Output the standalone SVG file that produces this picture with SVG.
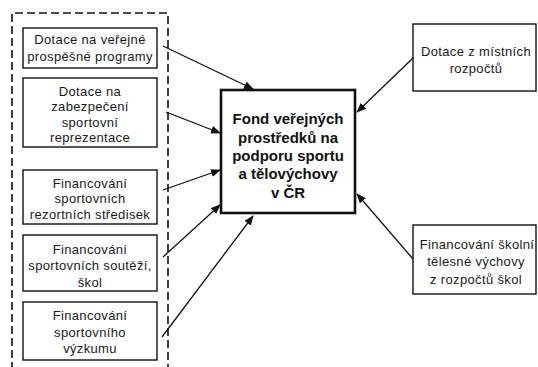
<svg xmlns="http://www.w3.org/2000/svg" width="538" height="367" viewBox="0 0 538 367">
<style>
.box{fill:#fff;stroke:#111;stroke-width:1.4}
.main{fill:#fff;stroke:#111;stroke-width:2.6}
.t{font-family:"Liberation Sans",Arial,sans-serif;font-size:13px;letter-spacing:0.35px;fill:#1a1a1a;text-anchor:middle}
.b{font-family:"Liberation Sans",Arial,sans-serif;font-size:15px;font-weight:bold;fill:#111;text-anchor:middle}
.c{stroke:#111;stroke-width:1.3;fill:none;marker-end:url(#ah)}
</style>
<defs>
<marker id="ah" markerWidth="10" markerHeight="8" refX="9" refY="4" orient="auto" markerUnits="userSpaceOnUse">
<path d="M0,0 L10,4 L0,8 Z" fill="#111"/>
</marker>
</defs>
<rect width="538" height="367" fill="#fff"/>
<g id="group-dashed">
<path d="M12,370 L12,13 L168,13 L168,370" fill="none" stroke="#111" stroke-width="1.6" stroke-dasharray="8,4"/>
</g>
<g id="n1"><rect class="box" x="23" y="28" width="134" height="40"/>
<text class="t" x="90" y="44">Dotace na veřejné</text><text class="t" x="90" y="61">prospěšné programy</text></g>
<g id="n2"><rect class="box" x="23" y="78" width="134" height="69"/>
<text class="t" x="90" y="96">Dotace na</text><text class="t" x="90" y="111">zabezpečení</text><text class="t" x="90" y="127">sportovní</text><text class="t" x="90" y="142">reprezentace</text></g>
<g id="n3"><rect class="box" x="23" y="170" width="134" height="54"/>
<text class="t" x="90" y="188">Financování</text><text class="t" x="90" y="203">sportovních</text><text class="t" x="90" y="219">rezortních středisek</text></g>
<g id="n4"><rect class="box" x="23" y="235" width="134" height="56"/>
<text class="t" x="90" y="254">Financování</text><text class="t" x="90" y="270">sportovních soutěží,</text><text class="t" x="90" y="287">škol</text></g>
<g id="n5"><rect class="box" x="23" y="302" width="134" height="58"/>
<text class="t" x="90" y="320">Financování</text><text class="t" x="90" y="337">sportovního</text><text class="t" x="90" y="353">výzkumu</text></g>
<g id="center"><rect class="main" x="221" y="90" width="134" height="123"/>
<text class="b" x="288" y="124">Fond veřejných</text><text class="b" x="288" y="143">prostředků na</text><text class="b" x="288" y="161">podporu sportu</text><text class="b" x="288" y="179">a tělovýchovy</text><text class="b" x="288" y="198">v ČR</text></g>
<g id="r1"><rect class="box" x="413" y="24" width="123" height="67"/>
<text class="t" x="476" y="56">Dotace z místních</text><text class="t" x="476" y="73">rozpočtů</text></g>
<g id="r2"><rect class="box" x="413" y="225" width="123" height="69"/>
<text class="t" x="477" y="249">Financování školní</text><text class="t" x="476" y="266">tělesné výchovy</text><text class="t" x="476" y="284">z rozpočtů škol</text></g>
<g id="connectors">
<line class="c" x1="163" y1="46" x2="253" y2="89"/>
<line class="c" x1="166" y1="112" x2="220" y2="133"/>
<line class="c" x1="163" y1="190" x2="220" y2="170"/>
<line class="c" x1="163" y1="257" x2="220" y2="205"/>
<line class="c" x1="162" y1="337" x2="253" y2="216"/>
<line class="c" x1="413" y1="58" x2="357" y2="112"/>
<line class="c" x1="413" y1="259" x2="357" y2="194"/>
</g>
</svg>
